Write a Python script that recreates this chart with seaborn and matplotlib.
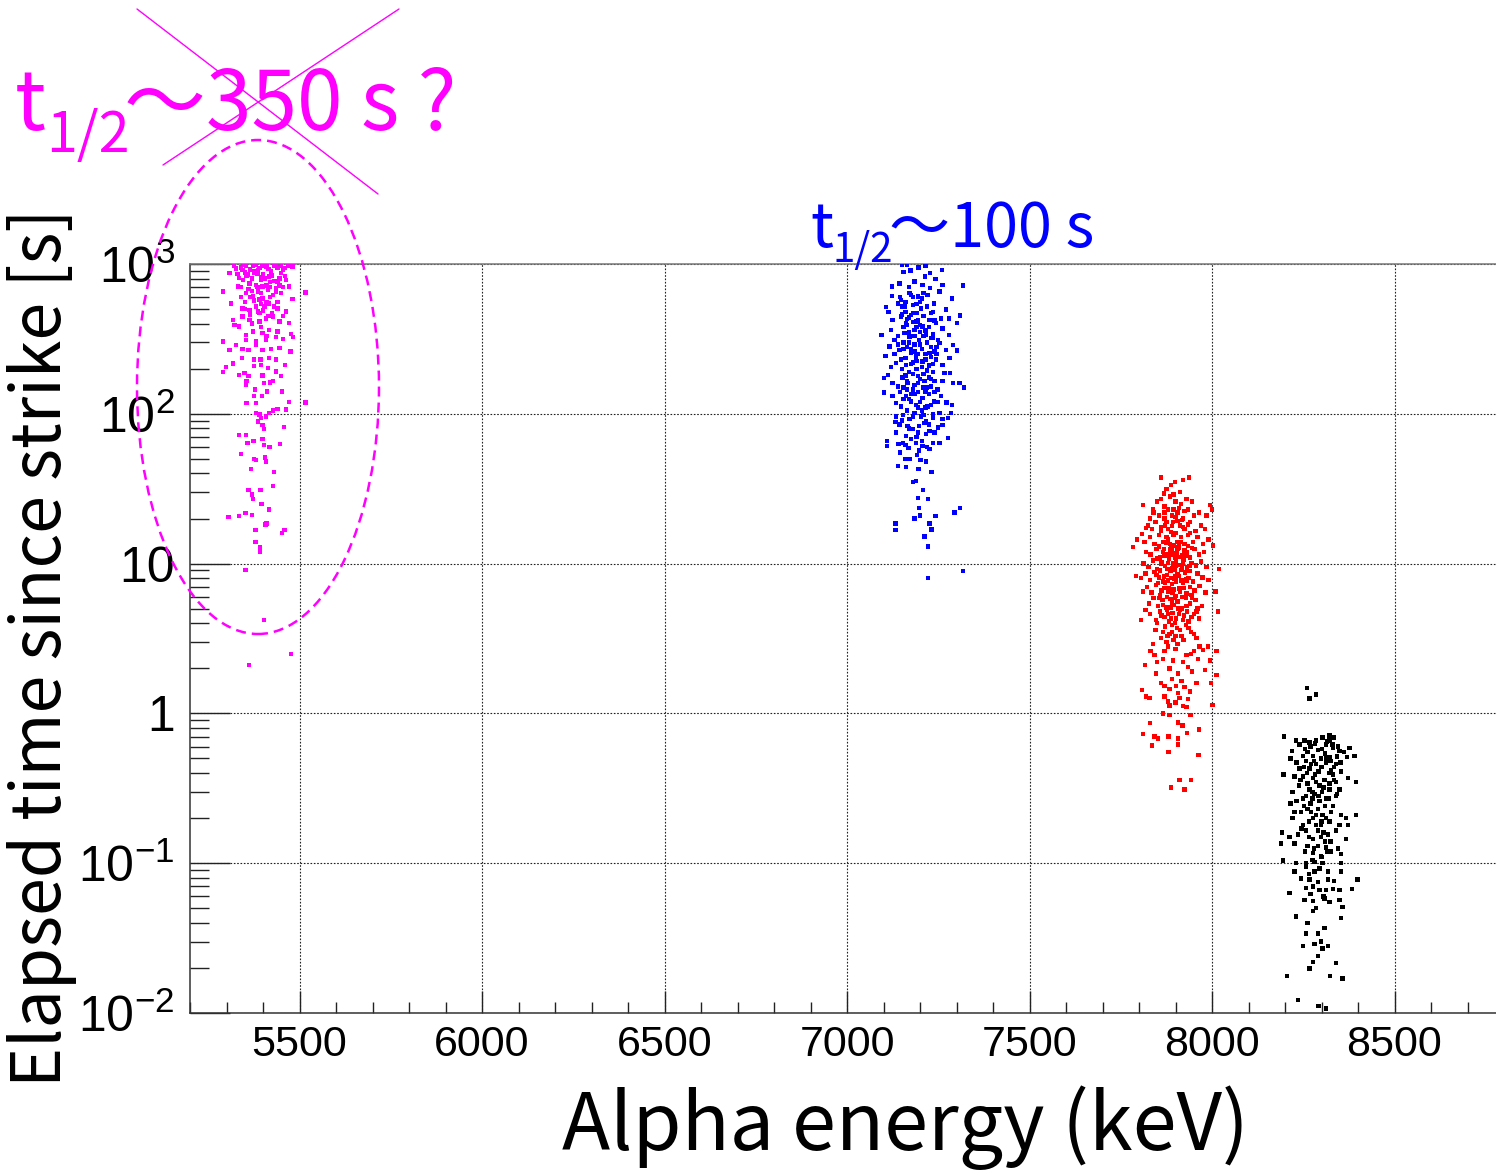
import numpy as np
import pandas as pd
import matplotlib
matplotlib.use("Agg")
import matplotlib.pyplot as plt
import seaborn as sns
from matplotlib.patches import Ellipse
from matplotlib.lines import Line2D
from matplotlib.ticker import MultipleLocator, LogLocator, NullFormatter

# ---------------- data (energy keV, elapsed time s) ----------------
magenta_pts = [
    (5305, 20.4), (5335, 20.7), (5352, 21.8), (5370, 21.2), (5379, 16.8), (5407, 18.2),
    (5410, 18.5), (5379, 13.9), (5391, 12.8), (5392, 12.0), (5452, 16.0), (5459, 16.7),
    (5360, 31), (5370, 29), (5372, 27), (5393, 31), (5396, 25), (5417, 23), (5428, 33),
    (5339, 54), (5367, 43), (5375, 50), (5381, 49), (5406, 51), (5408, 48), (5430, 41),
    (5335, 72), (5354, 72), (5358, 64), (5374, 66), (5399, 68), (5402, 62), (5418, 60),
    (5447, 63), (5457, 82), (5399, 84), (5402, 79), (5386, 89), (5395, 94), (5408, 96),
    (5417, 101), (5427, 105), (5390, 99), (5381, 101), (5463, 107), (5472, 120), (5516, 119),
    (5355, 118), (5381, 118), (5440, 108), (5452, 141), (5378, 145), (5398, 132), (5376, 132),
    (5411, 141), (5354, 156), (5335, 182), (5299, 205), (5290, 191), (5317, 217), (5355, 166),
    (5360, 178), (5349, 187), (5399, 180), (5402, 160), (5419, 162), (5428, 165), (5449, 178),
    (5460, 212), (5436, 192), (5413, 202), (5395, 212), (5376, 209), (5343, 235), (5375, 230),
    (5393, 230), (5416, 235), (5436, 230), (5308, 267), (5326, 289), (5344, 270), (5360, 267),
    (5399, 267), (5422, 270), (5445, 274), (5475, 260), (5290, 303), (5354, 312), (5381, 303),
    (5408, 312), (5436, 325), (5454, 316), (5483, 325), (5322, 392), (5335, 382), (5354, 336),
    (5372, 354), (5399, 345), (5417, 363), (5440, 354), (5477, 341), (5317, 423), (5344, 445),
    (5363, 423), (5390, 412), (5408, 434), (5427, 445), (5445, 412), (5472, 402), (5312, 546),
    (5344, 506), (5363, 493), (5386, 481), (5404, 519), (5417, 546), (5440, 506), (5463, 481),
    (5290, 654), (5331, 708), (5354, 638), (5372, 605), (5386, 654), (5399, 590), (5413, 670),
    (5427, 620), (5449, 638), (5481, 582), (5516, 644), (5308, 870), (5326, 935), (5344, 913),
    (5358, 850), (5372, 970), (5386, 905), (5395, 785), (5408, 960), (5417, 824), (5431, 975),
    (5440, 765), (5454, 913), (5463, 785), (5481, 960), (5472, 708), (5363, 743), (5381, 725),
    (5399, 708), (5436, 690), (5335, 805), (5354, 975), (5399, 975), (5376, 870), (5422, 890),
    (5449, 975), (5352, 9.1), (5402, 4.2), (5476, 2.5), (5361, 2.1),
    (5340, 950), (5365, 920), (5390, 940), (5415, 930), (5440, 950), (5460, 940), (5350, 880),
    (5375, 900), (5400, 860), (5425, 840), (5450, 870), (5345, 780), (5370, 800), (5395, 820),
    (5420, 760), (5445, 800), (5360, 680), (5385, 700), (5410, 720), (5435, 650), (5455, 700),
    (5350, 560), (5375, 570), (5395, 540), (5420, 600), (5440, 560), (5365, 460), (5390, 470),
    (5415, 450), (5340, 600),
    (5320, 980), (5345, 990), (5380, 985), (5410, 990), (5435, 985), (5470, 975), (5330, 860),
    (5355, 830), (5385, 860), (5405, 800), (5430, 770), (5460, 830), (5340, 700), (5370, 660),
    (5395, 640), (5420, 700), (5445, 720), (5365, 600), (5390, 580), (5410, 560), (5430, 520),
    (5350, 500), (5380, 520), (5400, 490), (5425, 470), (5455, 450), (5370, 400), (5395, 380),
    (5410, 330), (5380, 290),
]

blue_pts = [
    (7150, 985), (7165, 985), (7215, 975), (7260, 913), (7155, 885), (7174, 905), (7196, 950),
    (7228, 870), (7214, 824), (7242, 792), (7262, 725), (7317, 718), (7123, 708), (7144, 743),
    (7185, 765), (7207, 725), (7228, 690), (7253, 655), (7288, 590), (7123, 612), (7148, 576),
    (7171, 638), (7194, 605), (7221, 620), (7239, 546), (7271, 498), (7107, 514), (7114, 478),
    (7139, 546), (7157, 519), (7180, 532), (7203, 506), (7230, 469), (7258, 434), (7279, 434),
    (7310, 452), (7301, 402), (7095, 335), (7121, 363), (7125, 423), (7148, 445), (7162, 402),
    (7176, 457), (7189, 412), (7207, 382), (7226, 423), (7244, 402), (7262, 372), (7279, 336),
    (7105, 244), (7116, 282), (7130, 312), (7144, 267), (7157, 345), (7171, 328), (7185, 363),
    (7198, 312), (7217, 336), (7235, 320), (7253, 296), (7271, 267), (7291, 289), (7301, 264),
    (7121, 205), (7112, 182), (7102, 174), (7134, 218), (7148, 230), (7162, 212), (7176, 254),
    (7189, 241), (7207, 224), (7226, 254), (7244, 230), (7262, 212), (7281, 235), (7267, 187),
    (7282, 187), (7291, 160), (7308, 160), (7321, 150), (7125, 160), (7102, 139), (7125, 131),
    (7139, 152), (7153, 174), (7166, 160), (7180, 145), (7194, 178), (7212, 165), (7230, 152),
    (7248, 145), (7262, 165), (7134, 118), (7148, 112), (7162, 131), (7176, 121), (7189, 115),
    (7207, 127), (7221, 112), (7239, 121), (7258, 131), (7273, 119), (7288, 115), (7285, 101),
    (7134, 96), (7153, 98), (7171, 92), (7185, 101), (7203, 96), (7217, 89), (7235, 94),
    (7253, 101), (7262, 92), (7276, 94), (7133, 88), (7144, 85), (7166, 83), (7180, 79),
    (7198, 83), (7212, 87), (7226, 77), (7249, 81), (7262, 84), (7134, 75), (7162, 71),
    (7176, 68), (7194, 75), (7217, 73), (7235, 64), (7253, 64), (7276, 69), (7109, 66),
    (7109, 61), (7141, 63), (7153, 64), (7169, 59), (7189, 64), (7207, 61), (7226, 58),
    (7198, 57), (7146, 55), (7159, 50), (7171, 50), (7191, 53), (7201, 49), (7217, 48),
    (7139, 45), (7162, 44), (7196, 43), (7232, 41), (7180, 35), (7189, 35.5), (7209, 31),
    (7194, 27.5), (7222, 27), (7197, 23.5), (7200, 21), (7242, 20.7), (7185, 20), (7294, 22),
    (7310, 23.5), (7133, 18.5), (7133, 16.8), (7226, 18.5), (7232, 16.9), (7212, 15.2),
    (7222, 13), (7317, 8.9), (7222, 8.0),
    (7150, 520), (7160, 480), (7170, 440), (7180, 410), (7190, 380), (7200, 350), (7210, 330),
    (7220, 300), (7230, 280), (7240, 260), (7155, 300), (7165, 280), (7175, 270), (7185, 290),
    (7195, 250), (7205, 270), (7215, 230), (7225, 210), (7235, 190), (7245, 250), (7150, 200),
    (7160, 180), (7170, 190), (7180, 220), (7190, 200), (7200, 170), (7210, 185), (7220, 150),
    (7230, 170), (7240, 140), (7145, 140), (7155, 125), (7165, 145), (7175, 135), (7185, 155),
    (7195, 140), (7205, 105), (7215, 110), (7225, 135), (7235, 100), (7180, 600), (7200, 560),
    (7170, 700), (7210, 640), (7190, 470), (7165, 390), (7235, 340), (7250, 310), (7140, 330),
    (7130, 250),
    (7145, 600), (7160, 560), (7175, 620), (7190, 540), (7205, 590), (7220, 520), (7235, 480),
    (7150, 460), (7165, 430), (7180, 470), (7195, 420), (7210, 450), (7225, 380), (7240, 420),
    (7155, 380), (7170, 350), (7185, 330), (7200, 390), (7215, 360), (7230, 320), (7140, 290),
    (7155, 270), (7170, 300), (7185, 260), (7200, 290), (7215, 250), (7230, 240), (7245, 280),
    (7160, 235), (7175, 215), (7190, 225), (7205, 205), (7220, 195), (7235, 215), (7150, 175),
    (7165, 165), (7180, 185), (7195, 160), (7210, 150), (7225, 175), (7240, 165), (7155, 150),
    (7170, 125), (7185, 135), (7200, 120), (7215, 140), (7230, 115), (7250, 120), (7165, 105),
    (7180, 95), (7195, 110), (7210, 98), (7225, 85), (7150, 90), (7240, 75), (7170, 80),
    (7190, 70), (7205, 66), (7160, 62), (7220, 60),
]

red_pts = [
    (7861, 37.5), (7937, 37.5), (7920, 36), (7899, 35), (7888, 33.5), (7875, 31.5), (7913, 30),
    (7868, 29.3), (7811, 24.5), (7838, 23), (7995, 24.5), (8000, 23), (7795, 14.5), (7784, 12.9),
    (7820, 17.3), (7809, 15.7), (7791, 8.3), (8003, 13.2), (8019, 9.2), (8010, 6.5), (8016, 4.8),
    (7811, 6.5), (7805, 4.2), (7818, 4.9), (8012, 2.6), (8012, 1.8), (7998, 1.6), (8001, 1.14),
    (7817, 2.1), (7808, 1.43), (7820, 1.3), (7829, 1.27), (7870, 1.3), (7830, 0.86), (7811, 0.73),
    (7843, 0.70), (7852, 0.68), (7881, 0.70), (7907, 0.68), (7836, 0.61), (7907, 0.62),
    (7881, 0.55), (7964, 0.78), (7931, 0.74), (7963, 0.53), (7911, 0.36), (7943, 0.36),
    (7887, 0.32), (7925, 0.31), (7866, 1.0), (7884, 0.98), (7907, 0.87), (7919, 0.83),
    (7941, 0.98), (7884, 1.13), (7920, 1.12), (7930, 1.1), (7900, 1.18), (7911, 1.27),
    (7934, 1.25), (7884, 1.45), (7907, 1.37), (7939, 1.4), (7957, 1.6), (7902, 1.52),
    (7916, 1.65), (7870, 1.52), (7847, 1.85), (7884, 2.0), (7907, 1.85), (7934, 2.05),
    (7980, 1.95), (7831, 2.6), (7843, 2.45), (7866, 2.3), (7893, 2.25), (7930, 2.45),
    (7962, 2.3), (7975, 2.65), (7994, 2.25), (7838, 2.9), (7943, 2.5), (7966, 2.8), (7989, 2.8),
    (7860, 27), (7885, 28), (7900, 26), (7915, 25), (7930, 27), (7870, 24), (7895, 29),
    (7945, 26), (7850, 26),
    (7840, 22), (7855, 21), (7870, 20), (7880, 23), (7890, 21), (7905, 22), (7920, 20),
    (7935, 23), (7950, 21), (7965, 22), (7985, 21), (7830, 20), (7900, 20.5), (7910, 23.5),
    (7825, 18), (7835, 17), (7845, 19), (7860, 16.5), (7872, 18), (7880, 17), (7893, 19),
    (7900, 16), (7912, 18), (7925, 17), (7940, 19), (7955, 16.5), (7970, 18), (7980, 17),
    (7888, 16.2), (7918, 19.5),
    (7815, 14), (7830, 15), (7842, 13.5), (7855, 15.5), (7865, 14), (7875, 15), (7885, 13.5),
    (7895, 15.5), (7905, 14), (7915, 15), (7925, 13.5), (7935, 15.5), (7948, 14), (7960, 15),
    (7975, 13.5), (7990, 14.5), (7880, 14.5), (7910, 13.2),
    (7820, 12), (7832, 11.5), (7848, 12.5), (7858, 11), (7868, 12.5), (7878, 11.5), (7890, 12.2),
    (7898, 11), (7908, 12.8), (7918, 11.3), (7930, 12), (7940, 11), (7952, 12.5), (7965, 11.5),
    (7978, 12), (7888, 12.8), (7903, 11.8),
    (7812, 10), (7826, 9.5), (7838, 10.5), (7850, 9.2), (7862, 10.2), (7872, 9.6), (7882, 10.8),
    (7892, 9.3), (7902, 10.4), (7912, 9.8), (7922, 10.6), (7932, 9.4), (7944, 10.1), (7956, 9.7),
    (7970, 10.3), (7985, 9.5), (7895, 10.0), (7915, 9.1),
    (7805, 8), (7818, 8.6), (7830, 7.8), (7842, 8.8), (7855, 8.1), (7866, 7.6), (7876, 8.4),
    (7886, 8.9), (7896, 7.9), (7906, 8.5), (7916, 7.7), (7926, 8.7), (7936, 8.0), (7948, 7.6),
    (7960, 8.6), (7974, 8.1), (7990, 7.8), (7900, 8.2), (7880, 7.7),
    (7822, 7.0), (7834, 6.4), (7846, 7.2), (7858, 6.2), (7870, 6.9), (7880, 6.5), (7890, 7.3),
    (7900, 6.1), (7910, 6.8), (7920, 7.4), (7930, 6.3), (7940, 7.0), (7952, 6.6), (7966, 7.1),
    (7982, 6.4), (7895, 6.7),
    (7828, 5.4), (7840, 5.9), (7852, 5.2), (7864, 5.7), (7874, 5.1), (7886, 5.8), (7896, 5.3),
    (7906, 5.6), (7918, 5.0), (7928, 5.9), (7940, 5.4), (7955, 5.7), (7972, 5.2), (7890, 5.5),
    (7830, 4.6), (7846, 4.2), (7858, 4.8), (7870, 4.4), (7882, 4.1), (7892, 4.7), (7902, 4.3),
    (7912, 4.9), (7924, 4.5), (7936, 4.1), (7950, 4.6), (7965, 4.3), (7880, 4.6),
    (7845, 3.6), (7860, 3.2), (7872, 3.8), (7884, 3.4), (7894, 3.1), (7904, 3.7), (7916, 3.3),
    (7928, 3.9), (7942, 3.5), (7958, 3.2), (7890, 3.5), (7875, 3.0),
    (7855, 13), (7865, 12), (7875, 13.8), (7885, 12.4), (7895, 13.2), (7905, 12.6), (7915, 13.9),
    (7925, 12.2), (7935, 13.1), (7945, 12.7), (7850, 10.8), (7860, 9.9), (7870, 11.2),
    (7880, 10.1), (7890, 11.4), (7900, 9.7), (7910, 11.1), (7920, 10.0), (7930, 11.3),
    (7940, 9.6), (7848, 8.4), (7858, 9.0), (7868, 8.2), (7878, 9.2), (7888, 8.0), (7898, 9.1),
    (7908, 8.3), (7918, 9.3), (7928, 7.9), (7938, 8.9), (7852, 7.4), (7862, 6.6), (7872, 7.5),
    (7882, 6.8), (7892, 6.4), (7902, 7.6), (7912, 6.5), (7922, 6.9), (7932, 7.7), (7944, 6.2),
    (7856, 5.9), (7866, 5.3), (7876, 6.0), (7886, 5.1), (7898, 5.9), (7908, 5.0), (7918, 6.0),
    (7930, 5.2), (7945, 5.9), (7960, 5.0), (7850, 4.0), (7862, 4.5), (7876, 4.9), (7888, 4.3),
    (7898, 4.0), (7910, 4.6), (7920, 4.2), (7932, 4.8), (7944, 4.4), (7958, 4.8), (7865, 3.5),
    (7878, 3.3), (7890, 3.9), (7900, 3.3), (7912, 3.6), (7922, 3.1), (7936, 3.7), (7950, 3.4),
    (7880, 2.8), (7905, 2.9), (7860, 17.5), (7875, 19), (7890, 17.8), (7905, 19.2), (7920, 17.5),
    (7935, 18.2), (7870, 22), (7895, 23), (7925, 22.5), (7940, 16), (7850, 2.2), (7870, 2.6),
    (7900, 2.7), (7920, 2.2), (7950, 2.6), (7860, 1.6), (7890, 1.7), (7925, 1.5), (7945, 1.9),
    (7880, 1.2),
]

black_pts = [
    (8261, 1.48), (8267, 1.26), (8285, 1.34),
    (8197, 0.70), (8230, 0.66), (8253, 0.66), (8267, 0.64), (8285, 0.66), (8303, 0.69),
    (8322, 0.71), (8333, 0.69), (8313, 0.62), (8331, 0.59), (8349, 0.56), (8377, 0.59),
    (8219, 0.56), (8249, 0.52), (8276, 0.52), (8299, 0.50), (8322, 0.51), (8343, 0.51),
    (8370, 0.51), (8390, 0.52), (8215, 0.50), (8258, 0.48), (8285, 0.46), (8313, 0.47),
    (8340, 0.46), (8240, 0.43), (8267, 0.43), (8299, 0.44), (8326, 0.42), (8354, 0.41),
    (8196, 0.39), (8226, 0.38), (8276, 0.37), (8308, 0.36), (8335, 0.36), (8372, 0.37),
    (8395, 0.35), (8238, 0.33), (8267, 0.31), (8294, 0.33), (8322, 0.31), (8349, 0.31),
    (8221, 0.30), (8258, 0.28), (8281, 0.29), (8313, 0.27), (8340, 0.28), (8215, 0.25),
    (8249, 0.27), (8226, 0.22), (8244, 0.22), (8262, 0.23), (8290, 0.23), (8303, 0.21),
    (8326, 0.22), (8354, 0.21), (8367, 0.20), (8395, 0.21), (8221, 0.20), (8249, 0.18),
    (8276, 0.20), (8299, 0.18), (8322, 0.19), (8349, 0.18), (8372, 0.18), (8192, 0.16),
    (8212, 0.15), (8235, 0.155), (8258, 0.165), (8276, 0.145), (8299, 0.15), (8317, 0.155),
    (8340, 0.165), (8367, 0.145), (8189, 0.135), (8226, 0.135), (8262, 0.13), (8290, 0.13),
    (8313, 0.127), (8345, 0.125), (8276, 0.117), (8299, 0.112), (8326, 0.12), (8354, 0.115),
    (8194, 0.104), (8230, 0.10), (8258, 0.10), (8281, 0.102), (8303, 0.10), (8354, 0.10),
    (8226, 0.088), (8258, 0.094), (8281, 0.088), (8317, 0.088), (8354, 0.088), (8244, 0.079),
    (8267, 0.078), (8317, 0.078), (8335, 0.076), (8399, 0.078), (8258, 0.068), (8276, 0.070),
    (8294, 0.066), (8313, 0.066), (8331, 0.067), (8349, 0.066), (8384, 0.067), (8212, 0.063),
    (8253, 0.057), (8276, 0.056), (8308, 0.058), (8322, 0.055), (8349, 0.057), (8358, 0.051),
    (8276, 0.048), (8230, 0.044), (8262, 0.040), (8354, 0.043), (8258, 0.034), (8290, 0.034),
    (8308, 0.037), (8281, 0.029), (8299, 0.030), (8317, 0.028), (8303, 0.027), (8250, 0.028),
    (8290, 0.024), (8276, 0.022), (8340, 0.0215), (8267, 0.0198), (8206, 0.0177),
    (8324, 0.0177), (8358, 0.0170), (8235, 0.0122), (8292, 0.0111), (8313, 0.0107),
    (8270, 0.60), (8290, 0.57), (8310, 0.54), (8330, 0.62), (8280, 0.48), (8300, 0.44),
    (8320, 0.40), (8260, 0.40), (8285, 0.35), (8305, 0.32), (8275, 0.30), (8295, 0.26),
    (8310, 0.24), (8285, 0.21), (8300, 0.19), (8270, 0.25), (8320, 0.27), (8340, 0.35),
    (8255, 0.58), (8250, 0.38), (8335, 0.44), (8345, 0.60), (8265, 0.19), (8290, 0.165),
    (8310, 0.14), (8280, 0.125), (8300, 0.11), (8275, 0.27), (8325, 0.48), (8315, 0.65),
    (8240, 0.62), (8262, 0.55), (8282, 0.63), (8302, 0.58), (8322, 0.66), (8342, 0.52),
    (8362, 0.55), (8232, 0.47), (8252, 0.44), (8272, 0.46), (8292, 0.41), (8312, 0.50),
    (8332, 0.39), (8352, 0.47), (8242, 0.36), (8262, 0.34), (8282, 0.39), (8302, 0.30),
    (8322, 0.34), (8342, 0.29), (8232, 0.26), (8252, 0.24), (8272, 0.22), (8292, 0.28),
    (8312, 0.20), (8332, 0.24), (8245, 0.17), (8265, 0.15), (8285, 0.18), (8305, 0.16),
    (8325, 0.14), (8255, 0.12), (8275, 0.105), (8295, 0.092), (8315, 0.12), (8265, 0.085),
    (8290, 0.075), (8305, 0.06), (8285, 0.05), (8270, 0.062),
]

groups = ["magenta", "blue", "red", "black"]
group_colors = ["#ff00ff", "#0000ff", "#ff0000", "#000000"]
x_ticks = [5500, 6000, 6500, 7000, 7500, 8000, 8500]
y_ticks = [1e-2, 1e-1, 1, 10, 1e2, 1e3]
y_ticklabels = [r"$\mathdefault{10^{-2}}$", r"$\mathdefault{10^{-1}}$", "1", "10",
                r"$\mathdefault{10^{2}}$", r"$\mathdefault{10^{3}}$"]
x_label = "Alpha energy (keV)"
y_label = "Elapsed time since strike [s]"

frames = []
for name, pts in zip(groups, [magenta_pts, blue_pts, red_pts, black_pts]):
    d = pd.DataFrame(pts, columns=["energy", "time"])
    d["group"] = name
    frames.append(d)
df = pd.concat(frames, ignore_index=True)

# ---------------- style ----------------
sns.set_style("ticks")
plt.rcParams["font.family"] = ["Liberation Sans", "DejaVu Sans"]
plt.rcParams["mathtext.fontset"] = "custom"
plt.rcParams["mathtext.rm"] = "Liberation Sans"
plt.rcParams["mathtext.it"] = "Liberation Sans:italic"
plt.rcParams["mathtext.bf"] = "Liberation Sans:bold"
plt.rcParams["text.color"] = "black"
plt.rcParams["xtick.color"] = "black"
plt.rcParams["ytick.color"] = "black"
plt.rcParams["xtick.labelcolor"] = "black"
plt.rcParams["ytick.labelcolor"] = "black"

W, H = 1496, 1172
fig = plt.figure(figsize=(W / 100, H / 100), dpi=100)
ax = fig.add_axes([190 / W, 1 - 1013 / H, (1504 - 190) / W, (1013 - 264) / H])

sns.scatterplot(data=df, x="energy", y="time", hue="group", hue_order=groups,
                palette=dict(zip(groups, group_colors)), marker="s", s=10,
                linewidth=0, legend=False, ax=ax, zorder=3)

ax.set_yscale("log")
ax.set_xlim(5200, 8800)
ax.set_ylim(1e-2, 1e3)
ax.set_xticks(x_ticks)
ax.set_xticklabels([str(v) for v in x_ticks])
ax.xaxis.set_minor_locator(MultipleLocator(100))
ax.set_yticks(y_ticks)
ax.set_yticklabels(y_ticklabels)
ax.yaxis.set_minor_locator(LogLocator(base=10, subs=np.arange(2, 10)))
ax.yaxis.set_minor_formatter(NullFormatter())

ax.tick_params(axis="x", which="major", direction="in", length=16, width=1.0,
               labelsize=31, pad=9, color="#222222", labelcolor="black")
ax.tick_params(axis="x", which="minor", direction="in", length=8, width=1.0, color="#222222")
ax.tick_params(axis="y", which="major", direction="in", length=29, width=1.0,
               labelsize=36, pad=11, color="#222222", labelcolor="black")
ax.tick_params(axis="y", which="minor", direction="in", length=14, width=1.0, color="#222222")
ax.grid(True, which="major", linestyle=(0, (1.5, 1.5)), color="#222222", linewidth=0.8)
ax.set_axisbelow(True)

for side in ["left", "bottom"]:
    ax.spines[side].set_color("#333333")
    ax.spines[side].set_linewidth(1.1)
ax.spines["top"].set_color("#777777")
ax.spines["top"].set_linewidth(1.1)
ax.spines["right"].set_visible(False)
ax.set_xlabel("")
ax.set_ylabel("")

# axis titles
lab_font = ["Noto Sans CJK JP", "DejaVu Sans"]
fig.text(905 / W, 1 - 1150 / H, x_label, ha="center", va="baseline",
         fontsize=57, family=lab_font, color="black")
fig.text(42 / W, 1 - 648 / H, y_label, ha="center", va="center", rotation=90,
         fontsize=49, family=lab_font, color="black")

# annotations
def ftxt(px, py, s, size, color):
    fig.text(px / W, 1 - py / H, s, ha="left", va="baseline", fontsize=size,
             color=color, family=lab_font)

ftxt(15, 130, "t", 59, "#ff00ff")
ftxt(46, 152, "1/2", 40, "#ff00ff")
ftxt(124, 130, "～350 s ?", 59, "#ff00ff")

ftxt(810, 247, "t", 44, "#0000ff")
ftxt(833, 262, "1/2", 29, "#0000ff")
ftxt(889, 247, "～100 s", 44, "#0000ff")

fig.add_artist(Ellipse((258 / W, 1 - 387 / H), 242 / W, 494 / H, transform=fig.transFigure,
                       fill=False, edgecolor="#ff00ff", linewidth=1.8,
                       linestyle=(0, (4, 2.4)), clip_on=False))
fig.add_artist(Line2D([137 / W, 378 / W], [1 - 9 / H, 1 - 194 / H], transform=fig.transFigure,
                      color="#ff00ff", linewidth=1.0))
fig.add_artist(Line2D([163 / W, 399 / W], [1 - 165 / H, 1 - 9 / H], transform=fig.transFigure,
                      color="#ff00ff", linewidth=1.0))

fig.savefig("out.png", dpi=100)
